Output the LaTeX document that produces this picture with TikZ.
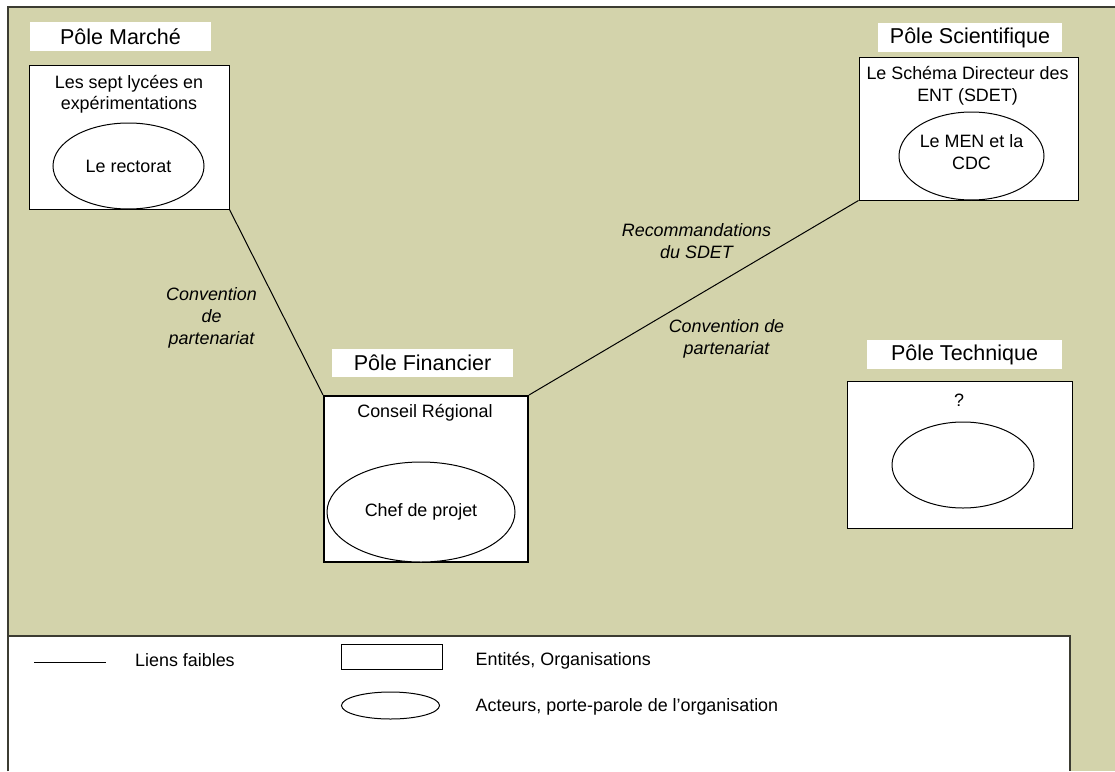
\documentclass[tikz,border=0pt]{standalone}
\usepackage{fontspec}
\setmainfont{Liberation Sans}
\usetikzlibrary{shapes.geometric}
\definecolor{khaki}{RGB}{211,211,171}
\definecolor{frame}{RGB}{60,60,50}
\begin{document}
\begin{tikzpicture}[x=1pt,y=-1pt,
  body/.style={font=\fontsize{17.9}{21.5}\selectfont, align=center, inner sep=0pt},
  itl/.style={font=\fontsize{17.9}{21.8}\selectfont\itshape, align=center, inner sep=0pt},
  pole/.style={fill=white, inner sep=0pt, font=\fontsize{21.5}{26}\selectfont},
  entity/.style={draw=black, fill=white, line width=1pt, inner sep=0pt},
  actor/.style={ellipse, draw=black, fill=white, line width=1pt, inner sep=0pt,
                font=\fontsize{17.9}{21.5}\selectfont, align=center},
  link/.style={draw=black, line width=1pt}]
\useasboundingbox (0,0) rectangle (1115,771);
% background
\fill[khaki] (8,7) rectangle (1115,771);
\draw[frame, line width=1.5pt] (8,771) -- (8,7) -- (1115,7);
% legend area
\fill[white] (8,636) rectangle (1070,771);
\draw[frame, line width=1.5pt] (8,771) -- (8,636) -- (1070,636) -- (1070,771);

% Pole Marche
\node[pole, minimum width=181pt, minimum height=29pt] (lblM) at (120.5,36.5) {Pôle Marché};
\node[entity, minimum width=200pt, minimum height=144pt] (boxM) at (129,137) {};
\node[body] (txtM) at (129,94.5) {Les sept lycées en\\expérimentations};
\node[actor, minimum width=151pt, minimum height=86pt] (ellM) at (128.5,166) {Le rectorat};

% Pole Scientifique
\node[pole, minimum width=184pt, minimum height=29pt] (lblS) at (970,37.5) {Pôle Scientifique};
\node[entity, minimum width=219pt, minimum height=143pt] (boxS) at (968.5,128.5) {};
\node[body] (txtS) at (967.5,86) {Le Schéma Directeur des\\ENT (SDET)};
\node[actor, minimum width=145pt, minimum height=88pt] (ellS) at (971.5,156) {};
\node[body] (txtSa) at (971.5,152) {Le MEN et la\\CDC};

% Pole Financier
\node[pole, minimum width=181pt, minimum height=28pt] (lblF) at (422.5,363) {Pôle Financier};
\node[entity, line width=2pt, minimum width=204pt, minimum height=166pt] (boxF) at (426,479) {};
\node[body] (txtF) at (425,413) {Conseil Régional};
\node[actor, minimum width=188pt, minimum height=100pt] (ellF) at (421,512) {Chef de projet};

% Pole Technique
\node[pole, minimum width=195pt, minimum height=29pt] (lblT) at (964.5,354.5) {Pôle Technique};
\node[entity, minimum width=225pt, minimum height=147pt] (boxT) at (959.5,454.5) {};
\node[body] (txtT) at (959,400) {?};
\node[actor, minimum width=142pt, minimum height=86pt] (ellT) at (963,465) {};

% links
\draw[link] (boxM.south east) -- (boxF.north west);
\draw[link] (boxF.north east) -- (boxS.south west);

% link labels
\node[itl] (l1) at (211.5,318) {Convention\\de\\partenariat};
\node[itl] (l2) at (696.5,241.5) {Recommandations\\du SDET};
\node[itl] (l3) at (726.5,339) {Convention de\\partenariat};

% legend
\coordinate (lgA) at (34,662);
\coordinate (lgB) at (106,662);
\draw[link] (lgA) -- (lgB);
\node[body, anchor=west] (lgT1) at (135,660) {Liens faibles};
\node[entity, minimum width=101pt, minimum height=25pt] (lgRect) at (391.5,656.5) {};
\node[body, anchor=west] (lgT2) at (475.5,661) {Entités, Organisations};
\node[actor, minimum width=98pt, minimum height=27pt] (lgEll) at (390.5,705.5) {};
\node[body, anchor=west] (lgT3) at (475.5,707) {Acteurs, porte-parole de l’organisation};
\end{tikzpicture}
\end{document}
